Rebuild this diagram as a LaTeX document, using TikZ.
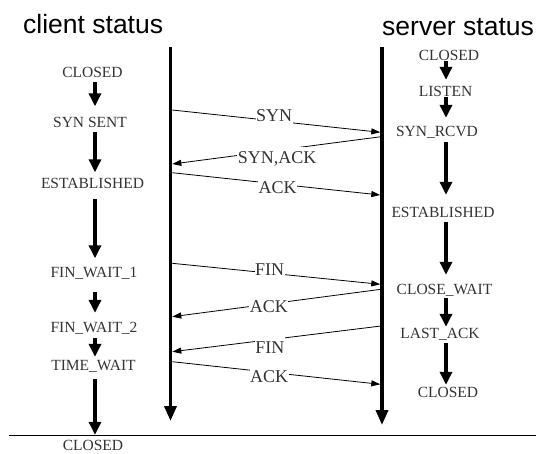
\documentclass[tikz,border=0pt]{standalone}
\usepackage{fontspec}
\setmainfont{Liberation Serif}
\newfontfamily\hdrfont{Liberation Sans}
\usetikzlibrary{arrows.meta}
\begin{document}
\begin{tikzpicture}[x=1pt,y=-1pt,
  state/.style={font=\fontsize{15.5}{16}\selectfont, text=black!80, inner sep=0pt, text height=10.3pt, text depth=0pt},
  msg/.style={font=\fontsize{18}{20}\selectfont, text=black!80, fill=white, inner xsep=0.5pt, inner ysep=0pt, text height=16pt, text depth=3pt, anchor=base},
  hdr/.style={font=\hdrfont\fontsize{26.5}{28}\selectfont, anchor=base west, inner sep=0pt},
  timeline/.style={line width=3.5pt, -{Triangle[width=12pt,length=15pt]}},
  starrow/.style={line width=3.5pt, -{Triangle[width=12pt,length=13pt]}},
  msgline/.style={line width=0.8pt, -{Triangle[width=6pt,length=9pt]}}]

\useasboundingbox (0,0) rectangle (536,453);

% headers
\node[hdr] (hc) at (23,33) {client status};
\node[hdr] (hs) at (382,35) {server status};

% timelines
\coordinate (ct) at (170.5,47); \coordinate (cb) at (170.5,421);
\coordinate (st) at (382,47);   \coordinate (sb) at (382,425);
\draw[timeline] (ct) -- (cb);
\draw[timeline] (st) -- (sb);

% bottom rule
\coordinate (bl) at (9,435.5); \coordinate (br) at (536,435.5);
\draw[line width=1pt] (bl) -- (br);

% client states
\node[state] (c1) at (92.5,72)  {CLOSED};
\node[state] (c2) at (90,122)   {SYN SENT};
\node[state] (c3) at (92.5,183) {ESTABLISHED};
\node[state] (c4) at (94,272)   {FIN\_WAIT\_1};
\node[state] (c5) at (94,327)   {FIN\_WAIT\_2};
\node[state] (c6) at (93.5,365) {TIME\_WAIT};
\node[state] (c7) at (93,445)   {CLOSED};
\coordinate (cax) at (95,0);
\draw[starrow, shorten <=4.85pt, shorten >=10.35pt] (c1.south -| cax) -- (c2.north -| cax);
\draw[starrow, shorten <=4.55pt, shorten >=5.35pt]  (c2.south -| cax) -- (c3.north -| cax);
\draw[starrow, shorten <=10.85pt, shorten >=8.35pt] (c3.south -| cax) -- (c4.north -| cax);
\draw[starrow, shorten <=14.85pt, shorten >=8.85pt] (c4.south -| cax) -- (c5.north -| cax);
\draw[starrow, shorten <=5.85pt, shorten >=2.85pt]  (c5.south -| cax) -- (c6.north -| cax);
\draw[starrow, shorten <=8.85pt, shorten >=4.85pt]  (c6.south -| cax) -- (c7.north -| cax);

% server states
\node[state] (s1) at (449,55)     {CLOSED};
\node[state] (s2) at (445.5,91.3) {LISTEN};
\node[state] (s3) at (437,131)    {SYN\_RCVD};
\node[state] (s4) at (443,212)    {ESTABLISHED};
\node[state] (s5) at (444.5,289)  {CLOSE\_WAIT};
\node[state] (s6) at (440,333)    {LAST\_ACK};
\node[state] (s7) at (448,392)    {CLOSED};
\coordinate (sax) at (446,0);
\draw[starrow, shorten <=0.85pt, shorten >=6.15pt]  (s1.south -| sax) -- (s2.north -| sax);
\draw[starrow, shorten <=0pt, shorten >=7.85pt]     (s2.south -| sax) -- (s3.north -| sax);
\draw[starrow, shorten <=5.85pt, shorten >=11.85pt] (s3.south -| sax) -- (s4.north -| sax);
\draw[starrow, shorten <=4.85pt, shorten >=8.85pt]  (s4.south -| sax) -- (s5.north -| sax);
\draw[starrow, shorten <=3.85pt, shorten >=0.85pt]  (s5.south -| sax) -- (s6.north -| sax);
\draw[starrow, shorten <=4.85pt, shorten >=1.85pt]  (s6.south -| sax) -- (s7.north -| sax);

% messages
\coordinate (m1a) at (172.3,110);   \coordinate (m1b) at (380.3,132.3);
\coordinate (m2a) at (381,136.7);   \coordinate (m2b) at (172.3,164);
\coordinate (m3a) at (172.3,172.7); \coordinate (m3b) at (380.3,195);
\coordinate (m4a) at (172.3,263.3); \coordinate (m4b) at (380.3,284.3);
\coordinate (m5a) at (381,289.3);   \coordinate (m5b) at (172.3,316.7);
\coordinate (m6a) at (381,326);     \coordinate (m6b) at (172.3,351.7);
\coordinate (m7a) at (172.3,361.7); \coordinate (m7b) at (380.3,384.3);

\draw[msgline] (m1a) -- node[msg, pos=0.49,  yshift=-0.45pt]  (l1) {SYN} (m1b);
\draw[msgline] (m2a) -- node[msg, pos=0.498, yshift=-12.95pt] (l2) {SYN,ACK} (m2b);
\draw[msgline] (m3a) -- node[msg, pos=0.506, yshift=-9.75pt]  (l3) {ACK} (m3b);
\draw[msgline] (m4a) -- node[msg, pos=0.468, yshift=-2.35pt]  (l4) {FIN} (m4b);
\draw[msgline] (m5a) -- node[msg, pos=0.537, yshift=-8.15pt]  (l5) {ACK} (m5b);
\draw[msgline] (m6a) -- node[msg, pos=0.532, yshift=-13.35pt] (l6) {FIN} (m6b);
\draw[msgline] (m7a) -- node[msg, pos=0.466, yshift=-10.15pt] (l7) {ACK} (m7b);
\end{tikzpicture}
\end{document}
